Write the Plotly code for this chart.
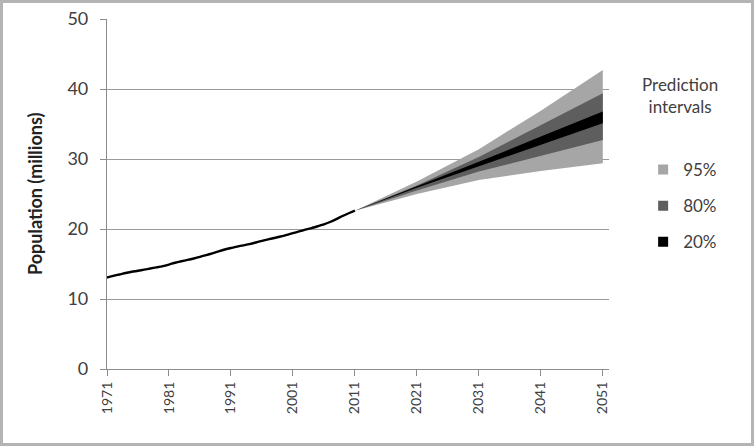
import plotly.graph_objects as go

hist_years = list(range(1971, 2012))
hist_pop = [13.07, 13.30, 13.50, 13.72, 13.89, 14.03, 14.19, 14.36, 14.52, 14.69,
            14.92, 15.18, 15.39, 15.58, 15.79, 16.02, 16.26, 16.53, 16.81, 17.07,
            17.28, 17.49, 17.67, 17.85, 18.07, 18.31, 18.52, 18.71, 18.93, 19.15,
            19.41, 19.65, 19.90, 20.13, 20.39, 20.66, 21.00, 21.40, 21.86, 22.25,
            22.62]

proj_years = [2011, 2021, 2031, 2041, 2051]
lo95 = [22.62, 25.0, 27.0, 28.3, 29.4]
hi95 = [22.62, 26.8, 31.4, 36.9, 42.7]
lo80 = [22.62, 25.5, 28.2, 30.5, 32.7]
hi80 = [22.62, 26.2, 30.3, 34.8, 39.4]
lo20 = [22.62, 25.9, 29.0, 32.0, 35.1]
hi20 = [22.62, 26.1, 29.6, 33.2, 36.8]

band_names = ["95%", "80%", "20%"]
band_colors = ["#a6a6a6", "#5e5e5e", "#000000"]
bands = [(lo95, hi95), (lo80, hi80), (lo20, hi20)]

xticks = [1971, 1981, 1991, 2001, 2011, 2021, 2031, 2041, 2051]
yticks = [0, 10, 20, 30, 40, 50]

W, H = 754, 446
ml, mr, mt, mb = 107, 145, 19, 77
pw, ph = W - ml - mr, H - mt - mb
FONT = "Lato, 'Open Sans', sans-serif"
TXT = "#404040"

fig = go.Figure()
for (lo, hi), name, col in zip(bands, band_names, band_colors):
    fig.add_trace(go.Scatter(
        x=proj_years + proj_years[::-1],
        y=hi + lo[::-1],
        fill="toself", fillcolor=col, mode="lines",
        line=dict(width=0, color=col), showlegend=False, hoverinfo="skip"))

fig.add_trace(go.Scatter(x=hist_years, y=hist_pop, mode="lines",
                         line=dict(color="#000000", width=2.4, shape="spline",
                                   smoothing=0.6),
                         showlegend=False))

# legend entries (square swatches)
for name, col in zip(band_names, band_colors):
    fig.add_trace(go.Scatter(x=[None], y=[None], mode="markers", name=name,
                             legendgroup=name,
                             marker=dict(symbol="square", size=10, color=col)))

fig.update_layout(
    width=W, height=H,
    margin=dict(l=ml, r=mr, t=mt, b=mb, autoexpand=False),
    paper_bgcolor="white", plot_bgcolor="white",
    font=dict(family=FONT, color=TXT),
    legend=dict(
        x=1.068, y=0.62, xanchor="left", yanchor="top",
        font=dict(size=17, color=TXT),
        traceorder="grouped", tracegroupgap=11,
        itemwidth=30, bgcolor="rgba(0,0,0,0)"),
    showlegend=True,
)
fig.add_annotation(text="Prediction<br>intervals", xref="paper", yref="paper",
                   x=(680 - ml) / pw, y=1 - (96 - mt) / ph, xanchor="center",
                   yanchor="middle", showarrow=False, align="center",
                   font=dict(size=17, color=TXT, family=FONT))
fig.update_xaxes(
    range=[1971, 2052], tickvals=xticks, ticktext=[str(v) for v in xticks],
    tickangle=-90, tickfont=dict(size=14, color=TXT),
    showgrid=False, zeroline=False, automargin=False,
    showline=True, linecolor="#8c8c8c", linewidth=1.2,
    ticks="outside", ticklen=6, tickcolor="#8c8c8c")
fig.update_yaxes(
    range=[0, 50], tickvals=yticks, automargin=False,
    tickfont=dict(size=18, color=TXT), ticklabelstandoff=8,
    showgrid=True, gridcolor="#9a9a9a", gridwidth=1,
    zeroline=False, showline=True, linecolor="#8c8c8c", linewidth=1.2,
    ticks="outside", ticklen=6, tickcolor="#8c8c8c")
fig.add_annotation(text="<b>Population (millions)</b>", xref="paper", yref="paper",
                   x=(35 - ml) / pw, y=0.5, textangle=-90, showarrow=False,
                   xanchor="center", yanchor="middle",
                   font=dict(size=18, color="#222222", family=FONT))

fig.add_shape(type="rect", xref="paper", yref="paper",
              x0=-(ml - 1.5) / pw, x1=1 + (mr - 1.5) / pw,
              y0=-(mb - 1.5) / ph, y1=1 + (mt - 1.5) / ph,
              line=dict(color="#b4b4b4", width=3), fillcolor="rgba(0,0,0,0)",
              layer="above")

fig.write_html("out.html", config={"displayModeBar": False},
               post_script="document.body.style.margin='0';"
                           "document.body.style.overflow='hidden';")
